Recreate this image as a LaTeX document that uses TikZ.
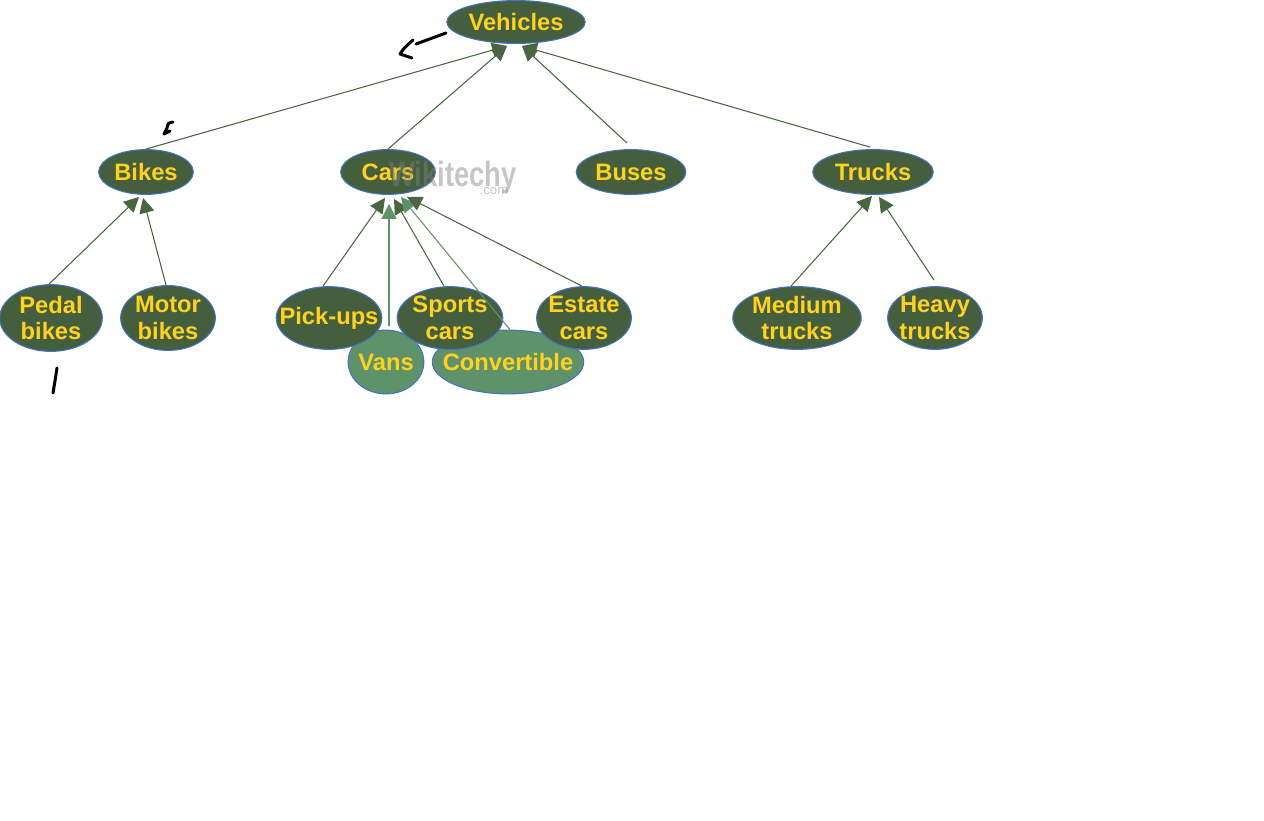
\documentclass[tikz,border=0pt]{standalone}
\usepackage{fontspec}
\setmainfont{Liberation Sans}
\usetikzlibrary{shapes.geometric,arrows.meta,calc}
\definecolor{nodegreen}{RGB}{69,94,62}
\definecolor{lightgreen}{RGB}{96,146,106}
\definecolor{edgeblue}{RGB}{68,114,196}
\definecolor{gold}{RGB}{255,210,31}
\definecolor{linegreen}{RGB}{74,101,66}
\definecolor{linelight}{RGB}{96,146,106}
\tikzset{
  vnode/.style={ellipse,draw=edgeblue,line width=0.6pt,fill=nodegreen,inner xsep=-30pt,inner ysep=-15pt,
    text=gold,font=\fontsize{13.5}{15.3}\selectfont\bfseries,align=center},
  lnode/.style={vnode,fill=lightgreen},
  conn/.style={draw=linegreen,line width=0.6pt,-{Triangle[length=8.5pt,width=8.5pt]}},
  connl/.style={draw=linelight,line width=0.6pt,-{Triangle[length=8.5pt,width=8.5pt]}},
  scribble/.style={draw=black,line width=1.7pt,line cap=round,line join=round},
}
\begin{document}
\begin{tikzpicture}[x=0.02cm,y=-0.02cm]
\useasboundingbox (0,0) rectangle (1264,821);
% top level
\node[vnode,minimum width=78.8pt,minimum height=24.4pt] (veh) at (516,22) {Vehicles};
\node[vnode,minimum width=53.9pt,minimum height=25.5pt] (bikes) at (146,172) {Bikes};
\node[vnode,minimum width=53.9pt,minimum height=25.5pt] (cars) at (388,172) {Cars};
\node[vnode,minimum width=62.4pt,minimum height=25.5pt] (buses) at (631,172) {Buses};
\node[vnode,minimum width=68.6pt,minimum height=25.5pt] (trucks) at (873,172) {Trucks};
% light nodes behind
\node[lnode,minimum width=43.1pt,minimum height=36.3pt] (vans) at (386,362) {Vans};
\node[lnode,minimum width=86.2pt,minimum height=36.3pt] (conv) at (508,362) {Convertible};
% leaves
\node[vnode,minimum width=58.4pt,minimum height=38pt] (pedal) at (51,318) {Pedal\\bikes};
\node[vnode,minimum width=53.9pt,minimum height=36.9pt] (motor) at (168,318) {Motor\\bikes};
\node[vnode,minimum width=60.1pt,minimum height=35.7pt] (pick) at (329,318) {Pick-ups};
\node[vnode,minimum width=60.1pt,minimum height=35.7pt] (sports) at (450,318) {Sports\\cars};
\node[vnode,minimum width=53.9pt,minimum height=35.7pt] (estate) at (584,318) {Estate\\cars};
\node[vnode,minimum width=73.1pt,minimum height=35.7pt] (medium) at (797,318) {Medium\\trucks};
\node[vnode,minimum width=53.9pt,minimum height=35.7pt] (heavy) at (935,318) {Heavy\\trucks};
% watermark
\node[text=gray,opacity=0.45,font=\fontsize{20}{20}\selectfont\bfseries,inner sep=0pt,xscale=0.78] (wm) at (453,177) {Wikitechy};
\node[text=gray,opacity=0.45,font=\fontsize{7.5}{8}\selectfont,inner sep=0pt] (wmcom) at (494,191) {.com};
% connectors to Vehicles
\draw[conn] (bikes.north) -- ($(veh.south)+(-9,2)$);
\draw[conn] (cars.north) -- ($(veh.south)+(-9,2)$);
\draw[conn] ($(buses.north)+(-4,-6)$) -- ($(veh.south)+(6,2)$);
\draw[conn] ($(trucks.north)+(-3,-2)$) -- ($(veh.south)+(6,2)$);
% bikes
\draw[conn] ($(pedal.north)+(-2,0)$) -- ($(bikes.south)+(-7,2)$);
\draw[conn] ($(motor.north)+(-2,0)$) -- ($(bikes.south)+(-3,3)$);
% cars
\draw[conn] ($(pick.north)+(-6,0)$) -- ($(cars.south)+(-3,3)$);
\draw[connl] ($(vans.north)+(3,-4)$) -- ($(cars.south)+(1,9)$);
\draw[conn] ($(sports.north)+(-6,0)$) -- ($(cars.south)+(6,4)$);
\draw[connl] ($(conv.north)+(2,0)$) -- ($(cars.south)+(13,2)$);
\draw[conn] ($(estate.north)+(-2,0)$) -- ($(cars.south)+(19,2)$);
% trucks
\draw[conn] ($(medium.north)+(-6,0)$) -- ($(trucks.south)+(-1,1)$);
\draw[conn] ($(heavy.north)+(-1,-6)$) -- ($(trucks.south)+(6,2)$);
% scribbles
\path[scribble] (446,33) -- (416,44);
\path[scribble] (413,40) .. controls (404,48) .. (400,54) -- (412,58);
\path[scribble] (173,122) .. controls (168,123) .. (167,128) -- (164,134) -- (170,131);
\path[scribble] (57,368) -- (55,381) -- (53,393);
\end{tikzpicture}
\end{document}
